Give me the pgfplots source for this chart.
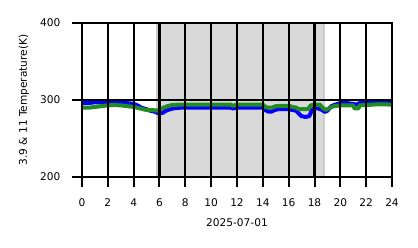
\documentclass[border=0pt]{standalone}
\usepackage{pgfplots}
\pgfplotsset{compat=1.18}
\usepackage{fontspec}
\setmainfont{DejaVu Sans}
\definecolor{bl}{HTML}{0000FF}
\definecolor{gr}{HTML}{228B22}
\definecolor{shade}{HTML}{D9D9D9}
\definecolor{shadeedge}{HTML}{CCCCCC}
\begin{document}
\fontsize{10.6bp}{12bp}\selectfont
\begin{tikzpicture}
\begin{axis}[
  scale only axis,
  width=310bp, height=154bp,
  xmin=0, xmax=24, ymin=200, ymax=400,
  xtick={0,2,...,24}, ytick={200,300,400},
  xtick pos=bottom, ytick pos=left,
  axis on top,
  grid=major,
  major grid style={black, line width=2.2bp},
  axis line style={black, line width=1.5bp},
  tick align=outside,
  major tick length=10bp,
  tick style={black, line width=2bp},
  /pgf/number format/assume math mode=true,
  tick label style={font=\fontsize{10.6bp}{12bp}\selectfont},
  label style={font=\fontsize{10.6bp}{12bp}\selectfont},
  xlabel={2025-07-01},
  ylabel={3.9 \& 11 Temperature(K)},
  xlabel style={at={(axis description cs:0.5,0)}, anchor=center, yshift=-46bp},
  ylabel style={at={(axis description cs:0,0.5)}, anchor=center, yshift=58bp},
  xticklabel style={yshift=-8bp},
  yticklabel style={xshift=-8bp},
]
\addplot[fill=shadeedge, draw=none] coordinates {(5.7,200) (18.78,200) (18.78,400) (5.7,400)} -- cycle;
\addplot[fill=shade, draw=none] coordinates {(5.85,200) (18.62,200) (18.62,400) (5.85,400)} -- cycle;
\addplot[bl, line width=4bp, line join=round] coordinates {
(0,296) (0.5,296) (1,297) (1.5,297) (2,296.5) (2.5,296.5) (3,296) (3.5,296) (4,295)
(4.3,293) (4.6,290) (5,288) (5.3,286) (5.6,285) (5.9,283) (6.2,283) (6.5,286) (6.8,288)
(7.2,289.5) (7.6,290) (8,290) (9,290) (10,290) (11,290) (11.5,290) (11.7,289) (12,290)
(13,290) (14,290) (14.2,287) (14.4,285) (14.7,285) (14.9,287) (15.2,288) (15.5,288)
(16,288) (16.3,287) (16.6,286) (16.8,282) (17.0,279) (17.3,278) (17.6,279) (17.8,287)
(18,289) (18.3,289) (18.6,287) (18.8,284.5) (19.0,286) (19.3,292) (19.6,294) (20,296)
(20.5,296) (21,295) (21.2,294) (21.5,296) (22,297) (22.5,297) (23,297) (23.5,297) (24,297)
};
\addplot[gr, line width=4bp, line join=round] coordinates {
(0,290) (0.5,290) (1,291) (1.5,292) (2,293) (2.5,293.5) (3,293) (3.5,292) (4,291)
(4.5,289) (5,287) (5.5,287) (5.8,286) (6.0,288) (6.3,290) (6.6,292) (7,293.5) (7.5,294)
(8,294) (9,294) (10,294) (11,294) (11.5,294) (11.7,292.5) (12,294) (13,294) (14,294)
(14.2,291) (14.4,290) (14.7,290) (15,292) (15.5,292.5) (16,292.5) (16.3,291) (16.6,290)
(16.8,288) (17.2,288) (17.5,288) (17.7,293) (18,294) (18.4,294) (18.7,289) (18.9,287)
(19.2,290) (19.5,292) (20,293) (20.5,293) (21,293) (21.1,289) (21.4,289) (21.5,293)
(22,293.5) (22.5,294) (23,294.5) (24,294)
};
\end{axis}
\path[use as bounding box] ([shift={(-82bp,-71bp)}]current axis.south west) rectangle ([shift={(26bp,23bp)}]current axis.north east);
\end{tikzpicture}
\end{document}
